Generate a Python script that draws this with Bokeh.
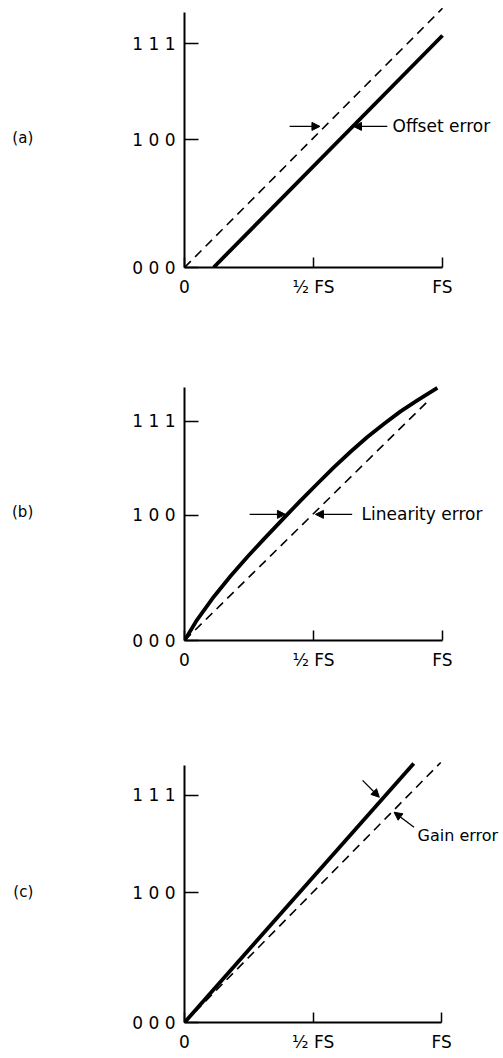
from bokeh.plotting import figure
from bokeh.models import Range1d, FixedTicker, Arrow, NormalHead, Label
from bokeh.layouts import column
from bokeh.embed import file_html
from bokeh.resources import INLINE

FONT = "DejaVu Sans"

# ---- data -------------------------------------------------------------
x_ticks = [0, 4, 8]
x_tick_labels = ["0", "½ FS", "FS"]
y_ticks = [0, 4, 7]
y_tick_labels = ["0 0 0", "1 0 0", "1 1 1"]

# (a) offset error
a_ideal_x = [0.0, 8.0]
a_ideal_y = [0.0, 8.1]
a_actual_x = [0.9, 8.0]
a_actual_y = [0.0, 7.25]

# (b) linearity error
b_ideal_x = [0.0, 7.55]
b_ideal_y = [0.0, 7.65]
b_actual_x = [0.0, 0.39, 0.91, 1.43, 1.94, 2.46, 3.19, 3.6, 4.11, 4.63, 5.15, 5.67, 6.18, 6.7, 7.22, 7.84]
b_actual_y = [0.0, 0.66, 1.4, 2.06, 2.66, 3.24, 4.03, 4.47, 5.0, 5.53, 6.03, 6.5, 6.92, 7.32, 7.67, 8.07]

# (c) gain error
c_ideal_x = [0.0, 7.97]
c_ideal_y = [0.0, 8.0]
c_actual_x = [0.0, 7.13]
c_actual_y = [0.0, 7.97]

panel_names = ["(a)", "(b)", "(c)"]
error_labels = ["Offset error", "Linearity error", "Gain error"]


def make_panel(height, top, bottom, left, xe, ye, ybound, name):
    p = figure(width=503, height=height,
               x_range=Range1d(0, xe), y_range=Range1d(0, ye),
               output_backend="svg", toolbar_location=None,
               min_border_left=left, min_border_right=0,
               min_border_top=top, min_border_bottom=bottom)
    p.outline_line_color = None
    p.xgrid.visible = False
    p.ygrid.visible = False
    p.background_fill_color = "white"
    p.border_fill_color = "white"

    xa = p.xaxis[0]
    xa.ticker = FixedTicker(ticks=x_ticks)
    xa.major_label_overrides = dict(zip(x_ticks, x_tick_labels))
    xa.bounds = (0, 8)
    ya = p.yaxis[0]
    ya.ticker = FixedTicker(ticks=y_ticks)
    ya.major_label_overrides = dict(zip(y_ticks, y_tick_labels))
    ya.bounds = (0, ybound)
    for ax in (xa, ya):
        ax.axis_line_width = 2
        ax.axis_line_color = "black"
        ax.major_tick_line_width = 1.5
        ax.major_tick_line_color = "black"
        ax.major_tick_out = 0
        ax.minor_tick_line_color = None
        ax.major_label_text_font = FONT
        ax.major_label_text_font_size = "17px"
        ax.major_label_text_color = "black"
    xa.major_tick_in = 10
    xa.major_label_standoff = 9
    ya.major_tick_in = 14
    ya.major_label_standoff = 9
    # panel name as a horizontal axis label, left of the tick labels
    ya.axis_label = name
    ya.axis_label_text_font = FONT
    ya.axis_label_text_font_size = "15px"
    ya.axis_label_text_font_style = "normal"
    ya.axis_label_text_color = "black"
    ya.axis_label_orientation = "horizontal"
    ya.axis_label_standoff = 96
    return p


def arrow(p, x0, y0, x1, y1):
    p.add_layout(Arrow(end=NormalHead(size=8, fill_color="black", line_color="black", line_width=1),
                       x_start=x0, y_start=y0, x_end=x1, y_end=y1,
                       line_width=1.3, line_color="black"))


def label(p, x, y, text, size="17px", align="left"):
    p.add_layout(Label(x=x, y=y, text=text, text_font=FONT, text_font_size=size,
                       text_align=align, text_baseline="middle", text_color="black"))


# ---- (a) ---------------------------------------------------------------
pa = make_panel(317, 7, 50, 184, 319 / 32.25, 260 / 32.0, 7.97, panel_names[0])
pa.line(a_ideal_x, a_ideal_y, line_color="black", line_width=1.6, line_dash="9 6")
pa.line(a_actual_x, a_actual_y, line_color="black", line_width=3.8)
arrow(pa, 3.26, 4.41, 4.2, 4.41)
arrow(pa, 6.29, 4.41, 5.24, 4.41)
label(pa, 6.45, 4.41, error_labels[0])

# ---- (b) ---------------------------------------------------------------
pb = make_panel(373, 65, 50, 184, 319 / 32.25, 258 / 31.3, 8.08, panel_names[1])
pb.line(b_ideal_x, b_ideal_y, line_color="black", line_width=1.6, line_dash="9 6")
pb.line(b_actual_x, b_actual_y, line_color="black", line_width=3.8, line_join="round")
arrow(pb, 2.02, 4.03, 3.13, 4.03)
arrow(pb, 5.2, 4.03, 4.06, 4.03)
label(pb, 5.49, 4.03, error_labels[1])

# ---- (c) ---------------------------------------------------------------
pc = make_panel(368, 70, 36, 183, 320 / 32.25, 262 / 32.5, 7.9, panel_names[2])
pc.line(c_ideal_x, c_ideal_y, line_color="black", line_width=1.6, line_dash="9 6")
pc.line(c_actual_x, c_actual_y, line_color="black", line_width=3.8)
arrow(pc, 5.54, 7.45, 6.06, 6.93)
arrow(pc, 7.14, 6.01, 6.52, 6.47)
label(pc, 7.25, 5.75, error_labels[2], size="16px")

layout = column(pa, pb, pc, spacing=0)
open("out.html", "w").write(file_html(layout, INLINE))
